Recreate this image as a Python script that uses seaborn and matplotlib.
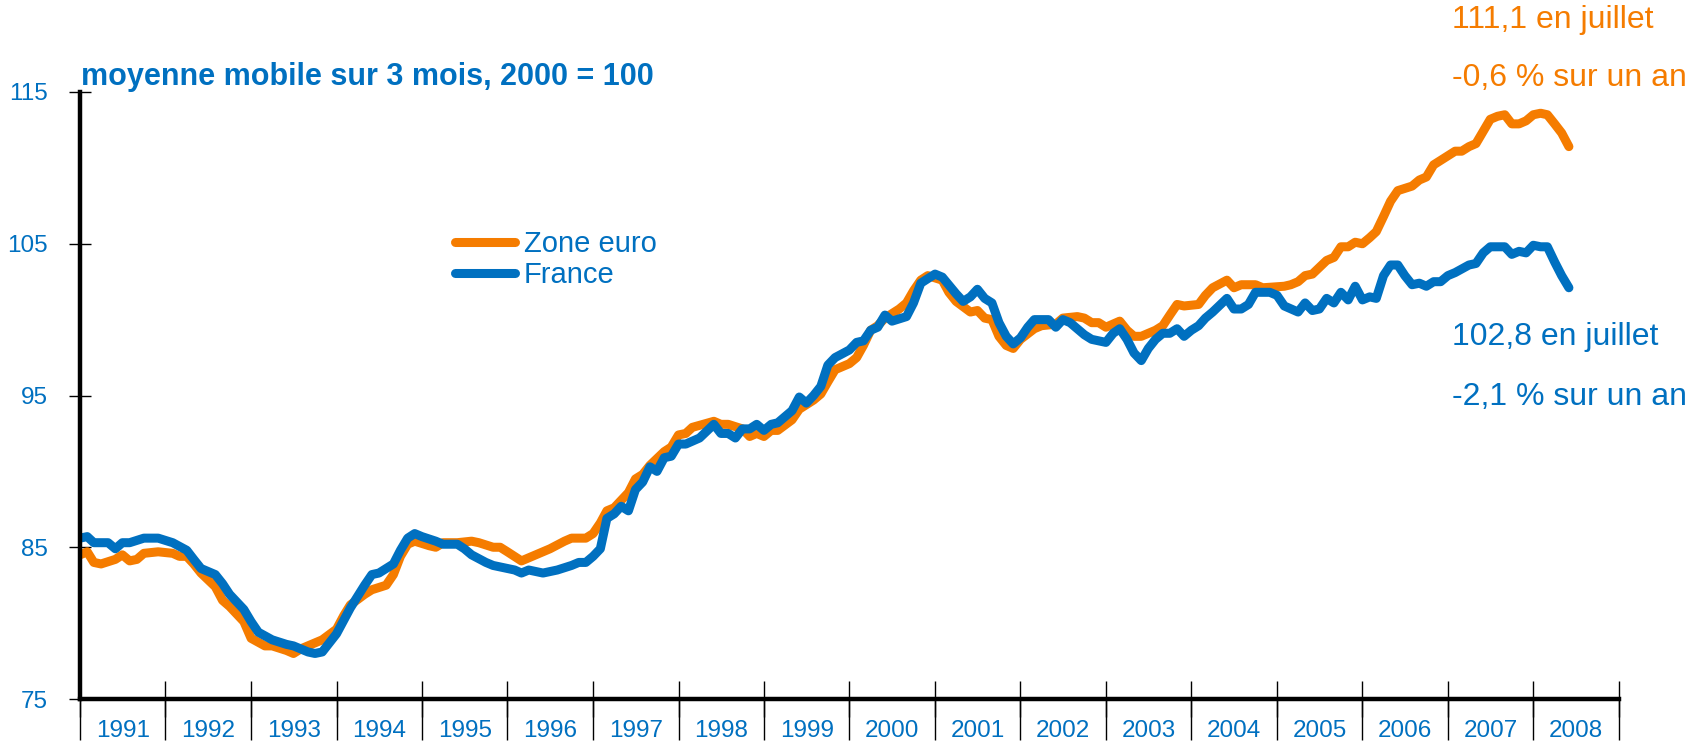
import pandas as pd
import seaborn as sns
import matplotlib.pyplot as plt
import matplotlib.dates as mdates
from matplotlib.ticker import FixedLocator
from matplotlib.transforms import ScaledTranslation

ORANGE = "#F57C00"
BLUE = "#0070C0"

# Zone euro, 3-month moving average, 2000 = 100
euro_months = [
    "1991-01", "1991-02", "1991-03", "1991-04", "1991-06", "1991-07", "1991-08", "1991-09", "1991-10", "1991-12",
    "1992-02", "1992-03", "1992-04", "1992-05", "1992-06", "1992-08", "1992-09", "1992-10", "1992-12",
    "1993-01", "1993-03", "1993-04", "1993-06", "1993-07", "1993-08", "1993-10", "1993-11",
    "1994-01", "1994-02", "1994-03", "1994-05", "1994-06", "1994-08", "1994-09", "1994-10", "1994-11", "1994-12",
    "1995-02", "1995-03", "1995-04", "1995-06", "1995-08", "1995-09", "1995-11", "1995-12",
    "1996-01", "1996-03", "1996-05", "1996-07", "1996-09", "1996-10", "1996-12",
    "1997-01", "1997-02", "1997-03", "1997-04", "1997-06", "1997-07", "1997-08", "1997-09", "1997-11", "1997-12",
    "1998-01", "1998-02", "1998-03", "1998-06", "1998-07", "1998-08", "1998-10", "1998-11", "1998-12",
    "1999-01", "1999-02", "1999-03", "1999-05", "1999-06", "1999-08", "1999-09", "1999-10", "1999-11", "1999-12",
    "2000-01", "2000-02", "2000-03", "2000-04", "2000-05", "2000-06", "2000-08", "2000-09", "2000-10", "2000-11", "2000-12",
    "2001-02", "2001-03", "2001-04", "2001-06", "2001-07", "2001-08", "2001-09", "2001-10", "2001-11", "2001-12",
    "2002-01", "2002-03", "2002-04", "2002-06", "2002-07", "2002-09", "2002-10", "2002-11", "2002-12",
    "2003-01", "2003-03", "2003-04", "2003-05", "2003-06", "2003-08", "2003-09", "2003-10", "2003-11", "2003-12",
    "2004-02", "2004-03", "2004-04", "2004-06", "2004-07", "2004-08", "2004-10", "2004-11",
    "2005-02", "2005-03", "2005-04", "2005-05", "2005-06", "2005-08", "2005-09", "2005-10", "2005-11", "2005-12",
    "2006-01", "2006-02", "2006-03", "2006-04", "2006-05", "2006-06", "2006-08", "2006-09", "2006-10", "2006-11",
    "2007-01", "2007-02", "2007-03", "2007-04", "2007-05", "2007-07", "2007-08", "2007-09", "2007-10", "2007-11", "2007-12",
    "2008-01", "2008-02", "2008-03", "2008-04", "2008-05", "2008-06",
]
euro_values = [
    84.5, 84.7, 84.0, 83.9, 84.2, 84.5, 84.1, 84.2, 84.6, 84.7,
    84.6, 84.4, 84.4, 83.9, 83.3, 82.4, 81.5, 81.1, 80.1,
    79.0, 78.5, 78.5, 78.2, 78.0, 78.3, 78.7, 78.9,
    79.6, 80.5, 81.2, 81.9, 82.2, 82.5, 83.2, 84.4, 85.2, 85.4,
    85.1, 85.0, 85.3, 85.3, 85.4, 85.3, 85.0, 85.0,
    84.7, 84.1, 84.5, 84.9, 85.4, 85.6, 85.6,
    85.9, 86.6, 87.4, 87.6, 88.6, 89.5, 89.8, 90.4, 91.3, 91.6,
    92.4, 92.5, 92.9, 93.3, 93.1, 93.1, 92.8, 92.3, 92.5,
    92.3, 92.7, 92.7, 93.4, 94.1, 94.7, 95.1, 95.9, 96.7, 96.9,
    97.1, 97.5, 98.3, 99.3, 99.6, 100.1, 100.7, 101.1, 101.9, 102.6, 102.9,
    102.6, 101.8, 101.2, 100.5, 100.6, 100.1, 100.0, 98.9, 98.3, 98.1,
    98.7, 99.4, 99.6, 99.7, 100.1, 100.2, 100.1, 99.8, 99.8,
    99.5, 99.9, 99.3, 98.9, 98.9, 99.3, 99.6, 100.3, 101.0, 100.9,
    101.0, 101.6, 102.1, 102.6, 102.1, 102.3, 102.3, 102.1,
    102.2, 102.3, 102.5, 102.9, 103.0, 103.9, 104.1, 104.8, 104.8, 105.1,
    105.0, 105.4, 105.8, 106.8, 107.8, 108.5, 108.8, 109.2, 109.4, 110.2,
    110.8, 111.1, 111.1, 111.4, 111.6, 113.2, 113.4, 113.5, 112.9, 112.9, 113.1,
    113.5, 113.6, 113.5, 112.9, 112.3, 111.4,
]

# France
france_months = [
    "1991-01", "1991-02", "1991-03", "1991-05", "1991-06", "1991-07", "1991-08", "1991-10", "1991-12",
    "1992-02", "1992-04", "1992-05", "1992-06", "1992-08", "1992-09", "1992-10", "1992-12",
    "1993-01", "1993-02", "1993-04", "1993-06", "1993-07", "1993-09", "1993-10", "1993-11",
    "1994-01", "1994-02", "1994-03", "1994-05", "1994-06", "1994-07", "1994-09", "1994-10", "1994-11", "1994-12",
    "1995-01", "1995-03", "1995-04", "1995-06", "1995-07", "1995-08", "1995-10", "1995-11", "1995-12",
    "1996-02", "1996-03", "1996-04", "1996-06", "1996-08", "1996-10", "1996-11", "1996-12",
    "1997-01", "1997-02", "1997-03", "1997-04", "1997-05", "1997-06", "1997-07", "1997-08", "1997-09", "1997-10",
    "1997-11", "1997-12",
    "1998-01", "1998-02", "1998-04", "1998-06", "1998-07", "1998-08", "1998-09", "1998-10", "1998-11", "1998-12",
    "1999-01", "1999-02", "1999-03", "1999-05", "1999-06", "1999-07", "1999-08", "1999-09", "1999-10", "1999-11",
    "2000-01", "2000-02", "2000-03", "2000-04", "2000-05", "2000-06", "2000-07", "2000-09", "2000-10", "2000-11", "2000-12",
    "2001-01", "2001-02", "2001-04", "2001-05", "2001-06", "2001-07", "2001-08", "2001-09", "2001-10", "2001-11", "2001-12",
    "2002-01", "2002-02", "2002-03", "2002-05", "2002-06", "2002-07", "2002-08", "2002-10", "2002-11",
    "2003-01", "2003-02", "2003-03", "2003-04", "2003-05", "2003-06", "2003-07", "2003-08", "2003-09", "2003-10",
    "2003-11", "2003-12",
    "2004-01", "2004-02", "2004-03", "2004-04", "2004-06", "2004-07", "2004-08", "2004-09", "2004-10", "2004-12",
    "2005-01", "2005-02", "2005-04", "2005-05", "2005-06", "2005-07", "2005-08", "2005-09", "2005-10", "2005-11", "2005-12",
    "2006-01", "2006-02", "2006-03", "2006-04", "2006-05", "2006-06", "2006-07", "2006-08", "2006-09", "2006-10",
    "2006-11", "2006-12",
    "2007-01", "2007-02", "2007-04", "2007-05", "2007-06", "2007-07", "2007-09", "2007-10", "2007-11", "2007-12",
    "2008-01", "2008-02", "2008-03", "2008-04", "2008-05", "2008-06",
]
france_values = [
    85.6, 85.7, 85.3, 85.3, 84.9, 85.3, 85.3, 85.6, 85.6,
    85.3, 84.8, 84.2, 83.6, 83.2, 82.6, 81.9, 80.9,
    80.1, 79.4, 78.9, 78.6, 78.5, 78.1, 78.0, 78.1,
    79.3, 80.2, 81.0, 82.5, 83.2, 83.3, 83.9, 84.8, 85.6, 85.9,
    85.7, 85.4, 85.2, 85.2, 84.9, 84.5, 84.0, 83.8, 83.7,
    83.5, 83.3, 83.5, 83.3, 83.5, 83.8, 84.0, 84.0,
    84.4, 84.9, 86.9, 87.2, 87.7, 87.4, 88.8, 89.3, 90.3, 90.0,
    90.9, 91.0,
    91.8, 91.8, 92.2, 93.1, 92.5, 92.5, 92.2, 92.8, 92.8, 93.1,
    92.7, 93.1, 93.2, 94.0, 94.9, 94.5, 95.0, 95.6, 97.0, 97.5,
    98.0, 98.5, 98.6, 99.3, 99.5, 100.3, 99.9, 100.2, 101.1, 102.4, 102.7,
    103.0, 102.8, 101.7, 101.2, 101.5, 102.0, 101.4, 101.1, 99.8, 98.9, 98.4,
    98.8, 99.5, 100.0, 100.0, 99.5, 100.0, 99.8, 99.0, 98.7,
    98.5, 99.1, 99.4, 98.7, 97.8, 97.3, 98.1, 98.7, 99.1, 99.1,
    99.4, 98.9,
    99.3, 99.6, 100.1, 100.5, 101.4, 100.7, 100.7, 101.0, 101.8, 101.8,
    101.6, 100.9, 100.5, 101.1, 100.6, 100.7, 101.4, 101.1, 101.8, 101.3, 102.2,
    101.3, 101.5, 101.4, 102.9, 103.6, 103.6, 102.9, 102.3, 102.4, 102.2,
    102.5, 102.5,
    102.9, 103.1, 103.6, 103.7, 104.4, 104.8, 104.8, 104.3, 104.5, 104.4,
    104.9, 104.8, 104.8, 103.8, 102.9, 102.1,
]

series_names = ["Zone euro", "France"]
years = list(range(1991, 2010))
y_ticks = [75, 85, 95, 105, 115]
subtitle = "moyenne mobile sur 3 mois, 2000 = 100"
euro_notes = ["111,1 en juillet", "-0,6 % sur un an"]
france_notes = ["102,8 en juillet", "-2,1 % sur un an"]

df = pd.concat([
    pd.DataFrame({"date": pd.to_datetime(euro_months), "value": euro_values, "serie": series_names[0]}),
    pd.DataFrame({"date": pd.to_datetime(france_months), "value": france_values, "serie": series_names[1]}),
], ignore_index=True)

sns.set_style("white")
plt.rcParams["font.family"] = ["Liberation Sans", "DejaVu Sans"]
NARROW = ["Liberation Sans Narrow", "Liberation Sans"]

W, H = 1700, 744
fig = plt.figure(figsize=(W / 100, H / 100), dpi=100)
ax = fig.add_axes([80 / W, 1 - 699 / H, (1619 - 80) / W, (699 - 92) / H])

sns.lineplot(data=df, x="date", y="value", hue="serie", hue_order=series_names,
             palette=[ORANGE, BLUE], linewidth=6.5, legend=False, ax=ax,
             solid_capstyle="round", solid_joinstyle="round")

ax.set_xlim(pd.Timestamp("1991-01-01"), pd.Timestamp("2009-01-01"))
ax.set_ylim(75, 115)
ax.set_xlabel("")
ax.set_ylabel("")

# year boundaries: ticks poke above and below the axis, labels sit between
tick_pos = [mdates.date2num(pd.Timestamp(f"{y}-01-01")) for y in years]
ax.set_xticks(tick_pos)
ax.set_xticklabels([str(y) for y in years[:-1]] + [""], family=NARROW)
ax.xaxis.set_minor_locator(FixedLocator(tick_pos))
ax.xaxis.remove_overlapping_locs = False
ax.tick_params(axis="x", which="both", bottom=True)
ax.tick_params(axis="x", which="major", direction="inout", length=26, width=1,
               color="black", labelsize=17.5, labelcolor=BLUE, pad=2)
ax.tick_params(axis="x", which="minor", direction="out", length=29.5, width=1, color="black")

ax.set_yticks(y_ticks)
ax.set_yticklabels([str(v) for v in y_ticks], family=NARROW)
ax.tick_params(axis="y", left=True, direction="inout", length=16, width=1, color="black",
               labelsize=17.5, labelcolor=BLUE, pad=15)

shift = ScaledTranslation(0.4275, 0, fig.dpi_scale_trans)
for lab in ax.get_xticklabels():
    lab.set_transform(lab.get_transform() + shift)

for side in ["top", "right"]:
    ax.spines[side].set_visible(False)
for side in ["left", "bottom"]:
    ax.spines[side].set_linewidth(3.2)
    ax.spines[side].set_color("black")

handles = ax.get_lines()[:2]
ax.legend(handles, series_names, loc="upper left", bbox_to_anchor=(455 / W, 1 - 230 / H),
          bbox_transform=fig.transFigure, frameon=False, fontsize=21, labelcolor=BLUE,
          handlelength=2.05, handletextpad=0.3, labelspacing=0.1, borderpad=0, borderaxespad=0)

fig.text(81 / W, 1 - 77 / H, subtitle, fontsize=22, fontweight="bold", color=BLUE, va="center")
fig.text(1452 / W, 1 - 20 / H, euro_notes[0], fontsize=23, color=ORANGE, va="center")
fig.text(1452 / W, 1 - 78 / H, euro_notes[1], fontsize=23, color=ORANGE, va="center")
fig.text(1452 / W, 1 - 337 / H, france_notes[0], fontsize=23, color=BLUE, va="center")
fig.text(1452 / W, 1 - 397 / H, france_notes[1], fontsize=23, color=BLUE, va="center")

fig.savefig("out.png", dpi=100)
plt.close(fig)
